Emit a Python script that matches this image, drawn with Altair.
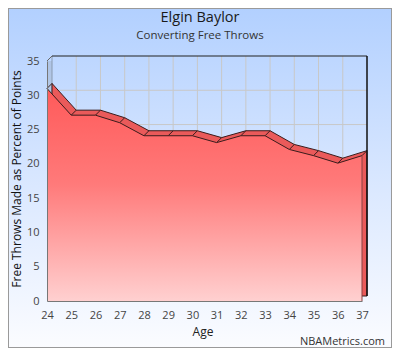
import altair as alt
import pandas as pd

ages = list(range(24, 38))
pct = [31.0, 27.1, 27.1, 26.0, 24.1, 24.1, 24.1, 23.1, 24.1, 24.1, 22.1, 21.2, 20.1, 21.2]
y_ticks = [0, 5, 10, 15, 20, 25, 30, 35]
grid_y = [5, 10, 15, 20, 25, 30]
grid_x = list(range(25, 37))

W, H = 315, 240
D = 5  # depth offset in px
FONT = "Open Sans"

df = pd.DataFrame({"age": ages, "pct": pct})
one = alt.Data(values=[{}])

xs = alt.Scale(domain=[24, 37], nice=False, zero=False)
ys = alt.Scale(domain=[0, 35], nice=False)

XAX = alt.Axis(values=ages, format="d", ticks=False, grid=False, domain=True,
               domainColor="#777777", labelPadding=8, labelFontSize=11,
               labelColor="#444444", labelFont=FONT, title=None, zindex=1,
               labelFlush=False, labelOverlap=False)
YAX = alt.Axis(values=y_ticks, ticks=False, grid=False, domain=True,
               domainColor="#777777", labelPadding=8, labelFontSize=11,
               labelColor="#444444", labelFont=FONT, title=None, zindex=1,
               labelOverlap=False, labelFlush=False)


def X(f):
    return alt.X(f, scale=xs, axis=XAX)


def Y(f):
    return alt.Y(f, scale=ys, axis=YAX)


bg = alt.Chart(one).mark_rect(
    fill=alt.Gradient(gradient="linear", x1=0, x2=0, y1=0, y2=1,
                      stops=[alt.GradientStop(color="#b2d0ff", offset=0),
                             alt.GradientStop(color="#dce9ff", offset=0.55),
                             alt.GradientStop(color="#fbfcff", offset=1)]),
    stroke="#9a9a9a", strokeWidth=2,
).encode(x=alt.value(-39), x2=alt.value(W + 30), y=alt.value(-53), y2=alt.value(H + 47))

side = alt.Chart(one).mark_rect(fill="#9eb0c8", opacity=0.45).encode(
    x=alt.value(0), x2=alt.value(D), y=alt.value(0), y2=alt.value(H))

gx = alt.Chart(pd.DataFrame({"g": grid_x})).mark_rule(color="#c8c8c8", strokeWidth=1, xOffset=D, x2Offset=D).encode(
    x=X("g:Q"), y=alt.value(-D), y2=alt.value(H - D))
gy = alt.Chart(pd.DataFrame({"g": grid_y})).mark_rule(color="#c8c8c8", strokeWidth=1, yOffset=-D, y2Offset=-D).encode(
    y=Y("g:Q"), x=alt.value(D), x2=alt.value(W + D))

top_b = alt.Chart(one).mark_rule(color="#222222", strokeWidth=1.2).encode(
    x=alt.value(D), x2=alt.value(W + D), y=alt.value(-D))
right_b = alt.Chart(one).mark_rule(color="#111111", strokeWidth=1.5).encode(
    x=alt.value(W + D), y=alt.value(-D), y2=alt.value(H - D))
left_b = alt.Chart(one).mark_rule(color="#8a9ab0", strokeWidth=1).encode(
    x=alt.value(D), y=alt.value(-D), y2=alt.value(H - D))
diag = alt.Chart(one).mark_rule(color="#666666", strokeWidth=1).encode(
    x=alt.value(0), x2=alt.value(D), y=alt.value(0), y2=alt.value(-D))

back = alt.Chart(df).mark_area(
    fill="#ea5a5a", stroke="#3a1c1c", strokeWidth=1,
    xOffset=D, yOffset=-D, y2Offset=-D,
).encode(x=X("age:Q"), y=Y("pct:Q"))

conn = alt.Chart(df).mark_rule(color="#3a1c1c", strokeWidth=1, x2Offset=D, y2Offset=-D).encode(
    x=X("age:Q"), x2="age:Q", y=Y("pct:Q"), y2="pct:Q")

front = alt.Chart(df).mark_area(
    fill=alt.Gradient(gradient="linear", x1=0, x2=0, y1=0, y2=1,
                      stops=[alt.GradientStop(color="#ff5a5a", offset=0),
                             alt.GradientStop(color="#ff7a7a", offset=0.45),
                             alt.GradientStop(color="#ffd0d0", offset=1)]),
).encode(x=X("age:Q"), y=Y("pct:Q"))

fline = alt.Chart(df).mark_line(color="#3a1c1c", strokeWidth=1).encode(
    x=X("age:Q"), y=Y("pct:Q"))

redge = alt.Chart(df).transform_filter(alt.datum.age == 37).mark_rule(color="#8a4040", strokeWidth=1).encode(
    x=X("age:Q"), y=Y("pct:Q"), y2=alt.datum(0))


def txt(s, x, y, size, color="#222222", angle=0, align="center"):
    return alt.Chart(one).mark_text(
        text=s, font=FONT, fontSize=size, color=color, angle=angle,
        align=align, baseline="middle",
    ).encode(x=alt.value(x), y=alt.value(y))


title = txt("Elgin Baylor", 153, -43, 14.5, "#1a1a1a")
sub = txt("Converting Free Throws", 153, -25, 11.5, "#333333")
ytitle = txt("Free Throws Made as Percent of Points", -30, 118, 12, "#111111", angle=270)
xtitle = txt("Age", 156, 271, 12, "#222222")
foot = txt("NBAMetrics.com", 338, 281, 11, "#333333", align="right")

chart = alt.layer(
    bg, side, gx, gy, left_b, diag, back, conn, front, fline, redge, top_b, right_b,
    title, sub, ytitle, xtitle, foot,
).properties(
    width=W, height=H,
    padding={"left": 39, "top": 53, "right": 30, "bottom": 47},
    autosize=alt.AutoSizeParams(type="none"),
).configure_view(stroke=None)

chart.save("out.html", embed_options={"renderer": "svg", "actions": False})
